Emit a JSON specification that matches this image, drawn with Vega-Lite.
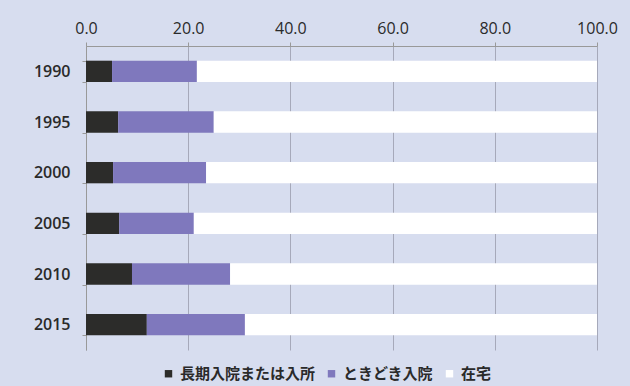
{
  "$schema": "https://vega.github.io/schema/vega-lite/v6.json",
  "width": 511,
  "height": 304,
  "autosize": {"type": "none"},
  "padding": {"left": 86, "top": 46, "right": 33, "bottom": 36},
  "background": "#d7ddef",
  "config": {
    "view": {"stroke": null},
    "font": "Open Sans"
  },
  "data": {
    "values": [
      {"year": "1990", "type": "長期入院または入所", "o": 1, "v": 5.1},
      {"year": "1990", "type": "ときどき入院", "o": 2, "v": 16.6},
      {"year": "1990", "type": "在宅", "o": 3, "v": 78.3},
      {"year": "1995", "type": "長期入院または入所", "o": 1, "v": 6.3},
      {"year": "1995", "type": "ときどき入院", "o": 2, "v": 18.7},
      {"year": "1995", "type": "在宅", "o": 3, "v": 75.0},
      {"year": "2000", "type": "長期入院または入所", "o": 1, "v": 5.3},
      {"year": "2000", "type": "ときどき入院", "o": 2, "v": 18.2},
      {"year": "2000", "type": "在宅", "o": 3, "v": 76.5},
      {"year": "2005", "type": "長期入院または入所", "o": 1, "v": 6.5},
      {"year": "2005", "type": "ときどき入院", "o": 2, "v": 14.6},
      {"year": "2005", "type": "在宅", "o": 3, "v": 78.9},
      {"year": "2010", "type": "長期入院または入所", "o": 1, "v": 9.0},
      {"year": "2010", "type": "ときどき入院", "o": 2, "v": 19.2},
      {"year": "2010", "type": "在宅", "o": 3, "v": 71.8},
      {"year": "2015", "type": "長期入院または入所", "o": 1, "v": 11.9},
      {"year": "2015", "type": "ときどき入院", "o": 2, "v": 19.2},
      {"year": "2015", "type": "在宅", "o": 3, "v": 68.9}
    ]
  },
  "mark": {"type": "bar"},
  "encoding": {
    "y": {
      "field": "year", "type": "nominal", "title": null,
      "scale": {"paddingInner": 0.58, "paddingOuter": 0.29},
      "axis": {
        "labelFontSize": 16, "labelFontWeight": 600, "labelColor": "#2a2a2a",
        "labelPadding": 12, "tickBand": "extent", "ticks": true, "tickSize": 4,
        "tickColor": "#999999", "domainColor": "#999999", "grid": false
      }
    },
    "x": {
      "field": "v", "type": "quantitative", "stack": "zero", "title": null,
      "scale": {"domain": [0, 100], "nice": false},
      "axis": {
        "orient": "top", "values": [0, 20, 40, 60, 80, 100], "format": ".1f",
        "labelFlush": false,
        "labelFontSize": 16, "labelColor": "#2a2a2a", "labelPadding": 6,
        "tickSize": 4, "tickColor": "#999999", "domainColor": "#999999",
        "grid": true, "gridColor": "#a6a9ba", "gridWidth": 1
      }
    },
    "order": {"field": "o", "type": "quantitative"},
    "color": {
      "field": "type", "type": "nominal",
      "scale": {
        "domain": ["長期入院または入所", "ときどき入院", "在宅"],
        "range": ["#2c2c2a", "#7f78bd", "#ffffff"]
      },
      "legend": {
        "title": null, "orient": "none", "direction": "horizontal",
        "legendX": 75, "legendY": 320,
        "symbolType": "square", "symbolSize": 55, "symbolStrokeWidth": 0,
        "labelFont": "Noto Sans CJK JP", "labelFontSize": 15, "labelFontWeight": "bold",
        "labelColor": "#2a2a2a", "columnPadding": 8, "labelOffset": 4
      }
    }
  }
}
